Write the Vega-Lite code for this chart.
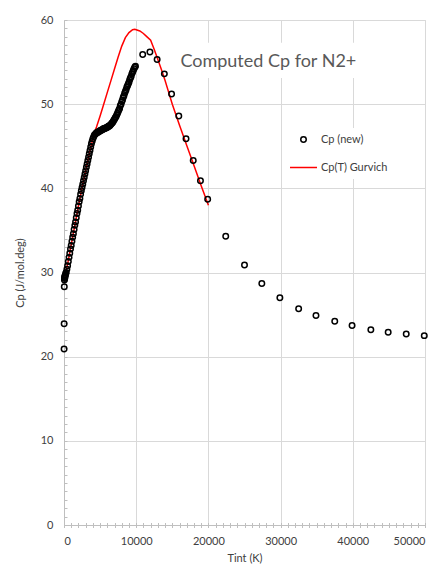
{
  "$schema": "https://vega.github.io/schema/vega-lite/v6.json",
  "width": 361,
  "height": 505,
  "padding": {"left": 64, "top": 20, "right": 18, "bottom": 45},
  "autosize": {"type": "none"},
  "background": "white",
  "config": {
    "view": {"stroke": "#d9d9d9", "strokeWidth": 1},
    "font": "Lato"
  },
  "datasets": {
    "dots": [
      {"T": 10, "Cp": 20.9}, {"T": 20, "Cp": 23.9}, {"T": 40, "Cp": 28.3}, {"T": 60, "Cp": 29.1},
      {"T": 80, "Cp": 29.4}, {"T": 100, "Cp": 29.3}, {"T": 120, "Cp": 29.6}, {"T": 150, "Cp": 29.5},
      {"T": 200, "Cp": 29.7}, {"T": 250, "Cp": 29.9}, {"T": 300, "Cp": 30.0},
      {"T": 400, "Cp": 30.4}, {"T": 500, "Cp": 30.8}, {"T": 600, "Cp": 31.3}, {"T": 700, "Cp": 31.8},
      {"T": 800, "Cp": 32.3}, {"T": 900, "Cp": 32.8}, {"T": 1000, "Cp": 33.2}, {"T": 1100, "Cp": 33.7},
      {"T": 1200, "Cp": 34.2}, {"T": 1300, "Cp": 34.6}, {"T": 1400, "Cp": 35.1}, {"T": 1500, "Cp": 35.6},
      {"T": 1600, "Cp": 36.0}, {"T": 1700, "Cp": 36.5}, {"T": 1800, "Cp": 37.0}, {"T": 1900, "Cp": 37.4},
      {"T": 2000, "Cp": 37.9}, {"T": 2100, "Cp": 38.4}, {"T": 2200, "Cp": 38.8}, {"T": 2300, "Cp": 39.3},
      {"T": 2400, "Cp": 39.7}, {"T": 2500, "Cp": 40.1}, {"T": 2600, "Cp": 40.5}, {"T": 2700, "Cp": 40.9},
      {"T": 2800, "Cp": 41.3}, {"T": 2900, "Cp": 41.7}, {"T": 3000, "Cp": 42.1}, {"T": 3100, "Cp": 42.5},
      {"T": 3200, "Cp": 42.9}, {"T": 3300, "Cp": 43.3}, {"T": 3400, "Cp": 43.7}, {"T": 3500, "Cp": 44.1},
      {"T": 3600, "Cp": 44.5}, {"T": 3700, "Cp": 44.9}, {"T": 3800, "Cp": 45.3}, {"T": 3900, "Cp": 45.6},
      {"T": 4000, "Cp": 45.9}, {"T": 4100, "Cp": 46.1}, {"T": 4200, "Cp": 46.3}, {"T": 4300, "Cp": 46.4},
      {"T": 4400, "Cp": 46.5}, {"T": 4500, "Cp": 46.6}, {"T": 4600, "Cp": 46.6}, {"T": 4700, "Cp": 46.7},
      {"T": 4800, "Cp": 46.7}, {"T": 4900, "Cp": 46.8}, {"T": 5000, "Cp": 46.8}, {"T": 5100, "Cp": 46.9},
      {"T": 5200, "Cp": 46.9}, {"T": 5300, "Cp": 47.0}, {"T": 5400, "Cp": 47.0}, {"T": 5500, "Cp": 47.1},
      {"T": 5600, "Cp": 47.1}, {"T": 5700, "Cp": 47.1}, {"T": 5800, "Cp": 47.2}, {"T": 5900, "Cp": 47.2},
      {"T": 6000, "Cp": 47.3}, {"T": 6100, "Cp": 47.3}, {"T": 6200, "Cp": 47.4}, {"T": 6300, "Cp": 47.4},
      {"T": 6400, "Cp": 47.5}, {"T": 6500, "Cp": 47.6}, {"T": 6600, "Cp": 47.7}, {"T": 6700, "Cp": 47.8},
      {"T": 6800, "Cp": 47.9}, {"T": 6900, "Cp": 48.1}, {"T": 7000, "Cp": 48.2}, {"T": 7100, "Cp": 48.4},
      {"T": 7200, "Cp": 48.5}, {"T": 7300, "Cp": 48.7}, {"T": 7400, "Cp": 48.9}, {"T": 7500, "Cp": 49.1},
      {"T": 7600, "Cp": 49.3}, {"T": 7700, "Cp": 49.5}, {"T": 7800, "Cp": 49.8}, {"T": 7900, "Cp": 50.0},
      {"T": 8000, "Cp": 50.3}, {"T": 8100, "Cp": 50.5}, {"T": 8200, "Cp": 50.8}, {"T": 8300, "Cp": 51.0},
      {"T": 8400, "Cp": 51.3}, {"T": 8500, "Cp": 51.5}, {"T": 8600, "Cp": 51.7}, {"T": 8700, "Cp": 52.0},
      {"T": 8800, "Cp": 52.2}, {"T": 8900, "Cp": 52.4}, {"T": 9000, "Cp": 52.6}, {"T": 9100, "Cp": 52.9},
      {"T": 9200, "Cp": 53.1}, {"T": 9300, "Cp": 53.3}, {"T": 9400, "Cp": 53.6}, {"T": 9500, "Cp": 53.8},
      {"T": 9600, "Cp": 54.0}, {"T": 9700, "Cp": 54.2}, {"T": 9800, "Cp": 54.4}, {"T": 9900, "Cp": 54.5},
      {"T": 10900, "Cp": 55.9}, {"T": 11900, "Cp": 56.2}, {"T": 12900, "Cp": 55.3}, {"T": 13900, "Cp": 53.6},
      {"T": 14900, "Cp": 51.2}, {"T": 15900, "Cp": 48.6}, {"T": 16900, "Cp": 45.9}, {"T": 17900, "Cp": 43.3},
      {"T": 18900, "Cp": 40.9}, {"T": 19900, "Cp": 38.7}, {"T": 22400, "Cp": 34.3}, {"T": 25000, "Cp": 30.9},
      {"T": 27400, "Cp": 28.7}, {"T": 29900, "Cp": 27.0}, {"T": 32500, "Cp": 25.7}, {"T": 34900, "Cp": 24.9},
      {"T": 37500, "Cp": 24.2}, {"T": 39900, "Cp": 23.7}, {"T": 42500, "Cp": 23.2}, {"T": 44900, "Cp": 22.9},
      {"T": 47400, "Cp": 22.7}, {"T": 49900, "Cp": 22.5}
    ],
    "gurvich": [
      {"T": 100, "Cp": 29.5}, {"T": 500, "Cp": 31.0}, {"T": 1000, "Cp": 33.3}, {"T": 1500, "Cp": 35.6},
      {"T": 2000, "Cp": 37.9}, {"T": 2500, "Cp": 40.1}, {"T": 3000, "Cp": 42.1}, {"T": 3500, "Cp": 44.1},
      {"T": 4000, "Cp": 45.9}, {"T": 4250, "Cp": 46.7}, {"T": 4500, "Cp": 47.3}, {"T": 5000, "Cp": 48.6},
      {"T": 5500, "Cp": 50.0}, {"T": 6000, "Cp": 51.4}, {"T": 6500, "Cp": 52.8}, {"T": 7000, "Cp": 54.2},
      {"T": 7500, "Cp": 55.6}, {"T": 8000, "Cp": 56.9}, {"T": 8500, "Cp": 57.9}, {"T": 9000, "Cp": 58.5},
      {"T": 9500, "Cp": 58.85}, {"T": 9800, "Cp": 58.9}, {"T": 10000, "Cp": 58.85}, {"T": 10500, "Cp": 58.7},
      {"T": 11000, "Cp": 58.4}, {"T": 11500, "Cp": 58.0}, {"T": 12000, "Cp": 57.6}, {"T": 12500, "Cp": 56.5},
      {"T": 13000, "Cp": 55.3}, {"T": 13500, "Cp": 54.1}, {"T": 14000, "Cp": 52.8}, {"T": 14500, "Cp": 51.4},
      {"T": 15000, "Cp": 50.0}, {"T": 16000, "Cp": 47.5}, {"T": 17000, "Cp": 45.1}, {"T": 18000, "Cp": 42.7},
      {"T": 19000, "Cp": 40.3}, {"T": 20000, "Cp": 38.0}
    ]
  },
  "resolve": {"axis": {"x": "independent", "y": "independent"}},
  "layer": [
    {
      "data": {"name": "gurvich"},
      "mark": {"type": "line", "color": "#ff0000", "strokeWidth": 1.5},
      "encoding": {
        "x": {
          "field": "T", "type": "quantitative",
          "scale": {"domain": [0, 50000], "nice": false, "zero": true},
          "axis": {
            "orient": "bottom",
            "values": [0, 10000, 20000, 30000, 40000, 50000],
            "format": "d",
            "grid": true, "gridColor": "#d9d9d9", "gridWidth": 1,
            "domain": true, "domainColor": "#bfbfbf", "domainWidth": 1,
            "ticks": false, "tickSize": 0,
            "labelPadding": 10, "labelFontSize": 11, "labelColor": "#404040", "labelFont": "Lato",
            "title": "Tint (K)", "titleFontSize": 11, "titleFontWeight": "normal", "titleColor": "#404040", "titleFont": "Lato",
            "titlePadding": 6
          }
        },
        "y": {
          "field": "Cp", "type": "quantitative",
          "scale": {"domain": [0, 60], "nice": false},
          "axis": {
            "orient": "left",
            "values": [0, 10, 20, 30, 40, 50, 60],
            "grid": true, "gridColor": "#d9d9d9", "gridWidth": 1,
            "domain": true, "domainColor": "#bfbfbf", "domainWidth": 1,
            "ticks": false, "tickSize": 0,
            "labelPadding": 11, "labelFontSize": 11, "labelColor": "#404040", "labelFont": "Lato",
            "title": "Cp (J/mol.deg)", "titleFontSize": 11, "titleFontWeight": "normal", "titleColor": "#404040", "titleFont": "Lato",
            "titlePadding": 15
          }
        },
        "color": {"datum": "Cp(T) Gurvich", "type": "nominal"}
      }
    },
    {
      "data": {"values": [{}]},
      "mark": {"type": "rect", "color": "white"},
      "encoding": {
        "x": {"datum": 14800, "type": "quantitative", "axis": null},
        "x2": {"datum": 41000},
        "y": {"datum": 57.3, "type": "quantitative", "axis": null},
        "y2": {"datum": 53.1}
      }
    },
    {
      "data": {"values": [{}]},
      "mark": {"type": "text", "fontSize": 18, "color": "#595959", "font": "Lato", "align": "center", "baseline": "middle"},
      "encoding": {
        "x": {"datum": 28300, "type": "quantitative", "axis": null},
        "y": {"datum": 55.05, "type": "quantitative", "axis": null},
        "text": {"value": "Computed Cp for N2+"}
      }
    },
    {
      "data": {"name": "dots"},
      "mark": {"type": "point", "filled": false, "strokeWidth": 1.5, "opacity": 1},
      "encoding": {
        "x": {
          "field": "T", "type": "quantitative",
          "axis": {
            "orient": "bottom",
            "values": [0,1000,2000,3000,4000,5000,6000,7000,8000,9000,10000,11000,12000,13000,14000,15000,16000,17000,18000,19000,20000,21000,22000,23000,24000,25000,26000,27000,28000,29000,30000,31000,32000,33000,34000,35000,36000,37000,38000,39000,40000,41000,42000,43000,44000,45000,46000,47000,48000,49000,50000],
            "grid": false, "domain": false, "labels": false, "title": null,
            "ticks": true, "tickSize": 5, "tickColor": "#bfbfbf", "tickWidth": 1, "offset": -2.5
          }
        },
        "y": {
          "field": "Cp", "type": "quantitative",
          "axis": {
            "orient": "left",
            "values": [0,1,2,3,4,5,6,7,8,9,10,11,12,13,14,15,16,17,18,19,20,21,22,23,24,25,26,27,28,29,30,31,32,33,34,35,36,37,38,39,40,41,42,43,44,45,46,47,48,49,50,51,52,53,54,55,56,57,58,59,60],
            "grid": false, "domain": false, "labels": false, "title": null,
            "ticks": true, "tickSize": 3, "tickColor": "#bfbfbf", "tickWidth": 1, "offset": -3
          }
        },
        "color": {
          "datum": "Cp (new)", "type": "nominal",
          "scale": {"domain": ["Cp (new)", "Cp(T) Gurvich"], "range": ["black", "#ff0000"]},
          "legend": {
            "orient": "none", "legendX": 219, "legendY": 108,
            "title": null, "fillColor": "white", "padding": 6,
            "labelFont": "Lato", "labelFontSize": 11, "labelColor": "#404040",
            "labelOffset": 3, "rowPadding": 7, "symbolStrokeWidth": 1.5
          }
        },
        "shape": {
          "datum": "Cp (new)", "type": "nominal",
          "scale": {"domain": ["Cp (new)", "Cp(T) Gurvich"], "range": ["circle", "stroke"]},
          "legend": {
            "orient": "none", "legendX": 219, "legendY": 108,
            "title": null, "fillColor": "white", "padding": 6,
            "labelFont": "Lato", "labelFontSize": 11, "labelColor": "#404040",
            "labelOffset": 3, "rowPadding": 7, "symbolStrokeWidth": 1.5
          }
        },
        "size": {
          "datum": "Cp (new)", "type": "ordinal",
          "scale": {"domain": ["Cp (new)", "Cp(T) Gurvich"], "range": [30, 729]},
          "legend": {
            "orient": "none", "legendX": 219, "legendY": 108,
            "title": null, "fillColor": "white", "padding": 6,
            "labelFont": "Lato", "labelFontSize": 11, "labelColor": "#404040",
            "labelOffset": 3, "rowPadding": 7, "symbolStrokeWidth": 1.5
          }
        }
      }
    }
  ]
}
